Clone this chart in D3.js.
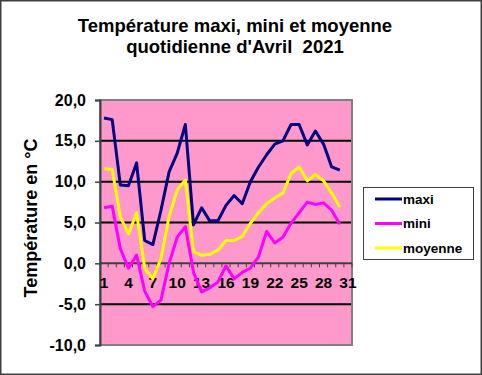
<!DOCTYPE html>
<html>
<head>
<meta charset="utf-8">
<script src="https://cdn.jsdelivr.net/npm/d3@7"></script>
<style>
  body { margin: 0; background: #fff; }
  svg text { font-family: "Liberation Sans", Arial, sans-serif; font-weight: bold; fill: #000; }
</style>
</head>
<body>
<div id="chart"></div>
<script>
// daily temperatures, April 2021 (day 31 left empty as in the source sheet)
var days = d3.range(1, 32);
var maxi = [17.8, 17.6, 9.6, 9.5, 12.3, 2.8, 2.3, 6.5, 11.2, 13.5, 17.0, 4.7, 6.8, 5.2, 5.2,
            7.1, 8.3, 7.3, 10.0, 11.8, 13.3, 14.6, 15.0, 17.0, 17.0, 14.5, 16.2, 14.6, 11.8, 11.4];
var mini = [6.8, 7.0, 1.8, -0.6, 1.0, -3.4, -5.3, -4.5, 0.0, 3.2, 4.5, -1.1, -3.5, -3.0, -2.3,
            -0.3, -1.9, -1.1, -0.6, 0.8, 3.9, 2.5, 3.2, 4.9, 6.2, 7.5, 7.2, 7.4, 6.5, 4.8];
var moyenne = [11.6, 11.5, 5.7, 3.6, 6.2, -0.6, -1.9, 0.6, 5.7, 9.0, 10.2, 1.4, 1.0, 1.1, 1.6,
               2.8, 2.8, 3.3, 4.9, 6.2, 7.3, 8.0, 8.6, 11.0, 11.8, 10.1, 10.9, 10.1, 8.6, 6.9];
var yTicks = [-10, -5, 0, 5, 10, 15, 20];
var xLabels = [1, 4, 7, 10, 13, 16, 19, 22, 25, 28, 31];

var series = [
  {name: "maxi", values: maxi, color: "#000080"},
  {name: "mini", values: mini, color: "#FF00FF"},
  {name: "moyenne", values: moyenne, color: "#FFFF00"}
];

var fullWidth = 482, fullHeight = 375;
var plot = {left: 100, right: 352, top: 100, bottom: 345};

var svg = d3.select("#chart").append("svg")
    .attr("width", fullWidth)
    .attr("height", fullHeight);

// outer chart frame
svg.append("rect")
    .attr("x", 0.75).attr("y", 0.75)
    .attr("width", fullWidth - 1.5).attr("height", fullHeight - 1.5)
    .attr("fill", "#fff")
    .attr("stroke", "#404040")
    .attr("stroke-width", 1.5);

var xScale = d3.scaleBand()
    .domain(days)
    .range([plot.left, plot.right])
    .padding(0);

var yScale = d3.scaleLinear()
    .domain([-10, 20])
    .range([plot.bottom, plot.top]);

// plot area
svg.append("rect")
    .attr("x", plot.left).attr("y", plot.top)
    .attr("width", plot.right - plot.left)
    .attr("height", plot.bottom - plot.top)
    .attr("fill", "#FF99CC");

// horizontal gridlines
svg.append("g").selectAll("line")
    .data(yTicks.filter(function(d) { return d !== 20 && d !== -10 && d !== 0; }))
    .enter().append("line")
    .attr("x1", plot.left).attr("x2", plot.right)
    .attr("y1", function(d) { return yScale(d); })
    .attr("y2", function(d) { return yScale(d); })
    .attr("stroke", "#000")
    .attr("stroke-width", 2);

// plot border
svg.append("rect")
    .attr("x", plot.left).attr("y", plot.top)
    .attr("width", plot.right - plot.left)
    .attr("height", plot.bottom - plot.top)
    .attr("fill", "none")
    .attr("stroke", "#808080")
    .attr("stroke-width", 2);

// y axis
var yAxis = d3.axisLeft(yScale)
    .tickValues(yTicks)
    .tickSize(5)
    .tickPadding(9)
    .tickFormat(function(d) { return d.toFixed(1).replace(".", ","); });

var yG = svg.append("g")
    .attr("transform", "translate(" + plot.left + ",0)")
    .call(yAxis);
yG.select(".domain").attr("stroke", "#404040").attr("stroke-width", 2);
yG.selectAll(".tick line").attr("stroke", "#404040").attr("stroke-width", 1.5);
yG.selectAll("text").style("font-size", "16px").attr("fill", "#000");

// x axis at zero, ticks between categories
var xAxis = d3.axisBottom(xScale)
    .tickSize(4)
    .tickPadding(6)
    .tickFormat(function(d) { return xLabels.indexOf(d) >= 0 ? d : ""; });

var xG = svg.append("g")
    .attr("transform", "translate(0," + yScale(0) + ")")
    .call(xAxis);
xG.select(".domain").attr("stroke", "#404040").attr("stroke-width", 2).attr("d", "M" + plot.left + ",0H" + plot.right);
xG.selectAll(".tick line")
    .attr("transform", "translate(" + (xScale.bandwidth() / 2) + ",0)")
    .attr("stroke", "#404040");
xG.selectAll("text").style("font-size", "15.5px").attr("fill", "#000").attr("dy", "0.95em");

// lines
var line = d3.line()
    .defined(function(d) { return d != null; })
    .x(function(d, i) { return xScale(days[i]) + xScale.bandwidth() / 2; })
    .y(function(d) { return yScale(d); });

svg.append("g").selectAll("path")
    .data(series.slice().reverse())
    .enter().append("path")
    .attr("d", function(s) { return line(s.values); })
    .attr("fill", "none")
    .attr("stroke", function(s) { return s.color; })
    .attr("stroke-width", 3)
    .attr("stroke-linejoin", "round");

// title
var title = svg.append("text")
    .attr("text-anchor", "middle")
    .style("font-size", "18.5px")
    .style("white-space", "pre");
title.append("tspan").attr("x", 235).attr("y", 32).text("Température maxi, mini et moyenne");
title.append("tspan").attr("x", 235).attr("y", 53).text("quotidienne d'Avril  2021");

// y axis title
svg.append("text")
    .attr("transform", "translate(37,218) rotate(-90)")
    .attr("text-anchor", "middle")
    .style("font-size", "18px")
    .text("Température en °C");

// legend
var legend = svg.append("g");
legend.append("rect")
    .attr("x", 363.5).attr("y", 187.5)
    .attr("width", 110).attr("height", 72)
    .attr("fill", "#fff")
    .attr("stroke", "#404040")
    .attr("stroke-width", 1);

var items = legend.selectAll(".item")
    .data(series)
    .enter().append("g")
    .attr("class", "item")
    .attr("transform", function(d, i) { return "translate(375," + (199 + i * 24.5) + ")"; });
items.append("line")
    .attr("x1", 0).attr("x2", 27)
    .attr("stroke", function(d) { return d.color; })
    .attr("stroke-width", 3);
items.append("text")
    .attr("x", 28)
    .attr("dy", "0.35em")
    .style("font-size", "13.5px")
    .text(function(d) { return d.name; });
</script>
</body>
</html>
